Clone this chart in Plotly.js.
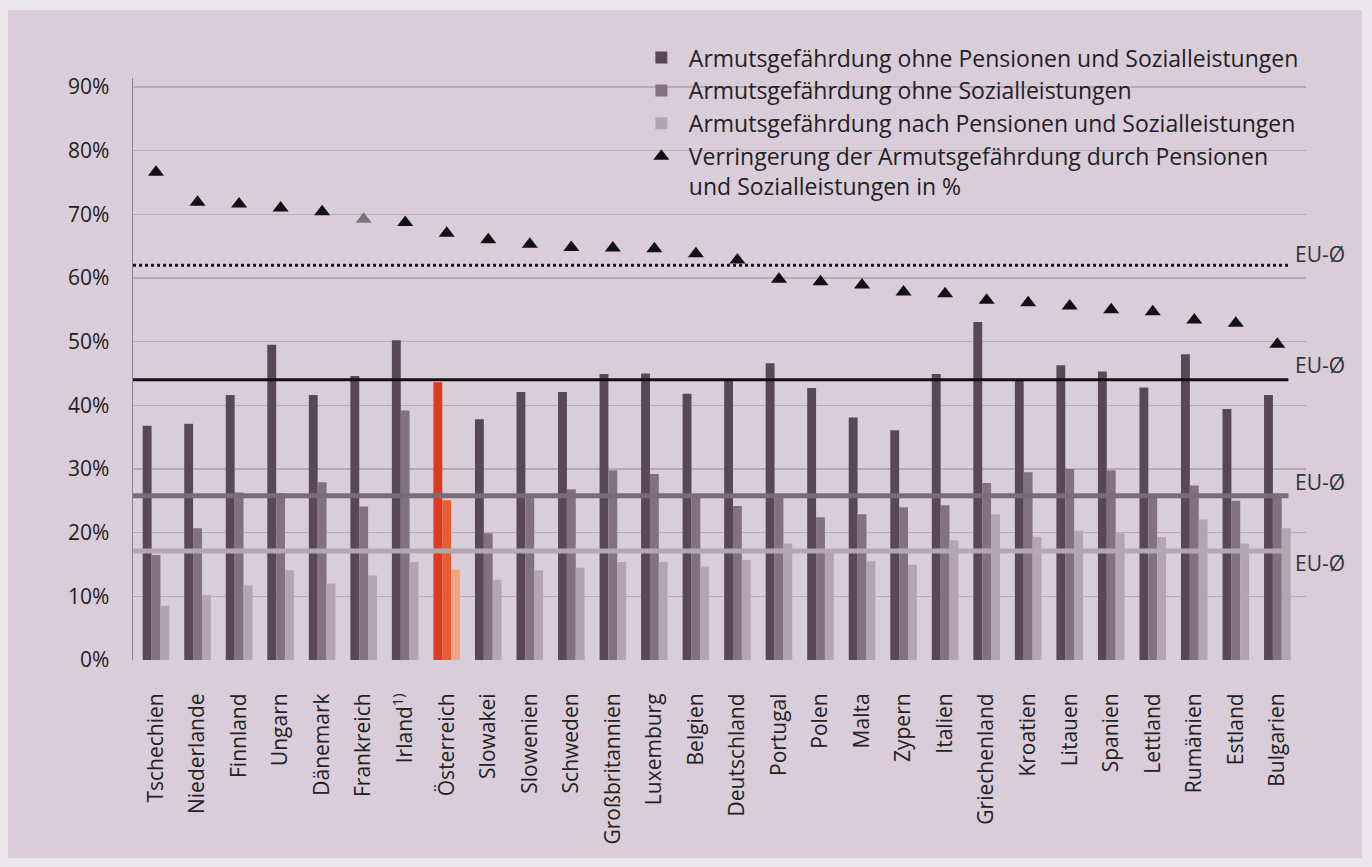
<!DOCTYPE html>
<html><head><meta charset="utf-8">
<script src="https://cdn.plot.ly/plotly-3.0.1.min.js"></script>
<style>
html,body{margin:0;padding:0;background:#ebe8ec;width:1372px;height:867px;overflow:hidden}
#chart{position:absolute;left:8px;top:10px;width:1354px;height:848px}
</style></head><body><div id="chart"></div>
<script>
const countries = ['Tschechien','Niederlande','Finnland','Ungarn','Dänemark','Frankreich','Irland<sup>1)</sup>','Österreich','Slowakei','Slowenien','Schweden','Großbritannien','Luxemburg','Belgien','Deutschland','Portugal','Polen','Malta','Zypern','Italien','Griechenland','Kroatien','Litauen','Spanien','Lettland','Rumänien','Estland','Bulgarien'];
const ohnePensionenUndSozial = [36.8,37.1,41.6,49.5,41.6,44.6,50.2,43.6,37.8,42.1,42.1,44.9,45.0,41.8,44.0,46.6,42.7,38.1,36.1,44.9,53.1,44.0,46.3,45.3,42.8,48.0,39.4,41.6];
const ohneSozial = [16.5,20.7,26.3,26.2,27.9,24.1,39.2,25.1,19.9,25.6,26.8,29.8,29.2,25.5,24.2,25.8,22.4,22.9,24.0,24.3,27.8,29.5,30.0,29.8,25.9,27.4,25.0,25.8];
const nachPensionenUndSozial = [8.5,10.2,11.7,14.1,12.0,13.3,15.4,14.2,12.6,14.1,14.5,15.4,15.4,14.7,15.7,18.3,17.2,15.5,14.9,18.8,22.9,19.3,20.3,19.9,19.3,22.1,18.3,20.7];
const verringerung = [76.6,71.9,71.6,71.0,70.4,69.2,68.7,67.0,66.0,65.3,64.8,64.7,64.6,63.8,62.8,59.8,59.4,58.9,57.8,57.5,56.5,56.1,55.6,55.0,54.7,53.4,52.9,49.6];
const euAverages = [62.0, 44.0, 25.8, 17.1];
const euLabel = 'EU-Ø';
const yTickVals = [0,10,20,30,40,50,60,70,80,90];
const yTickText = ['0%','10%','20%','30%','40%','50%','60%','70%','80%','90%'];
const seriesNames = ['Armutsgefährdung ohne Pensionen und Sozialleistungen','Armutsgefährdung ohne Sozialleistungen','Armutsgefährdung nach Pensionen und Sozialleistungen','Verringerung der Armutsgefährdung durch Pensionen<br>und Sozialleistungen in %'];

const highlight = 'Österreich';
const FONT = 'Open Sans';
const TXT = '#222222';
function colorsFor(base, hi){ return countries.map(c => c === highlight ? hi : base); }

const xIdx = countries.map((c,i)=>i);
const traces = [
  {type:'bar', name:seriesNames[0], x:xIdx, y:ohnePensionenUndSozial, marker:{color:colorsFor('#5a4755','#dd3b21')}, legendgroup:'a'},
  {type:'bar', name:seriesNames[1], x:xIdx, y:ohneSozial, marker:{color:colorsFor('#847180','#e85d36')}, legendgroup:'b'},
  {type:'bar', name:seriesNames[2], x:xIdx, y:nachPensionenUndSozial, marker:{color:colorsFor('#b3a4b0','#f2a485')}, legendgroup:'c'},
  {type:'scatter', mode:'markers', name:seriesNames[3], x:xIdx, y:verringerung,
   marker:{symbol:'triangle-up', size:14, color:countries.map(c=>c==='Frankreich'?'#777777':'#111111')}, legendgroup:'d'}
];

const lineStyles = [
  {color:'#111', width:3, dash:'dot'},
  {color:'#111', width:3, dash:'solid'},
  {color:'#7b6b77', width:5, dash:'solid'},
  {color:'#b3a8b1', width:5, dash:'solid'}
];
const labelShift = [11, 15, 14, -12];
const shapes = euAverages.map((v,i)=>({type:'line', xref:'paper', yref:'y', x0:0, x1:0.985, y0:v, y1:v, line:lineStyles[i], layer:'above'}));
const annotations = euAverages.map((v,i)=>({xref:'paper', yref:'y', x:0.989, y:v, yshift:labelShift[i], xanchor:'left', yanchor:'middle', text:euLabel, showarrow:false, font:{family:FONT, size:21, color:'#333'}}));

const layout = {
  width:1354, height:848,
  margin:{l:125, r:56, t:68, b:198},
  paper_bgcolor:'#d9cdd9', plot_bgcolor:'#d9cdd9',
  font:{family:FONT, size:20, color:TXT},
  barmode:'group', bargap:0.36, bargroupgap:0,
  xaxis:{range:[-0.554, 27.69], tickmode:'array', tickvals:xIdx, ticktext:countries, tickangle:-90,
         showgrid:false, zeroline:false, showline:false, ticks:'outside', ticklen:24, tickcolor:'rgba(0,0,0,0)',
         tickfont:{family:FONT, size:21, color:TXT}},
  yaxis:{range:[0,91.4], tickmode:'array', tickvals:yTickVals, ticktext:yTickText, showgrid:true, gridcolor:'#b8a9b7', gridwidth:1.5,
         zeroline:false, showline:true, linecolor:'#8c8490', linewidth:1.5, ticks:'outside', ticklen:18, tickcolor:'rgba(0,0,0,0)',
         tickfont:{family:FONT, size:21, color:TXT}},
  showlegend:true,
  legend:{x:0.427, y:1.072, xanchor:'left', yanchor:'top', bgcolor:'rgba(0,0,0,0)', traceorder:'grouped', tracegroupgap:0,
          valign:'top', font:{family:FONT, size:23, color:TXT}, itemwidth:45},
  shapes:shapes, annotations:annotations
};
Plotly.newPlot('chart', traces, layout, {displayModeBar:false, staticPlot:true});
</script></body></html>
